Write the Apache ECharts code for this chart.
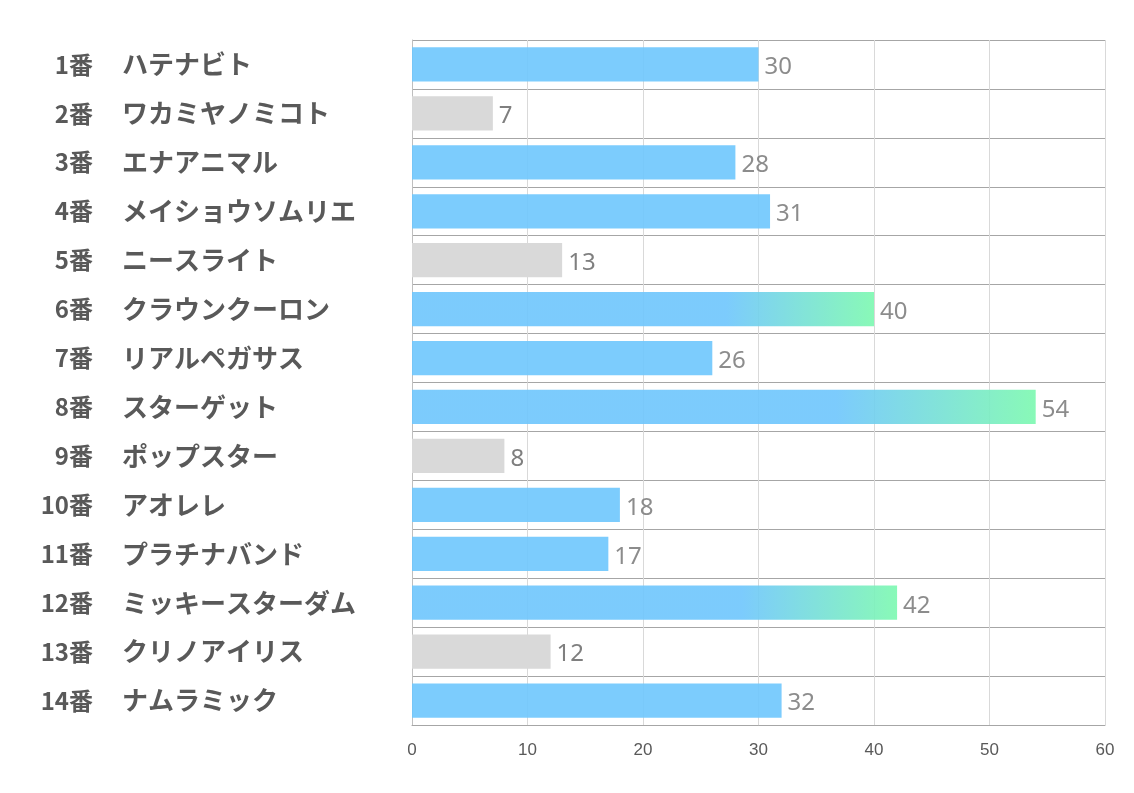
<!DOCTYPE html>
<html><head><meta charset="utf-8">
<script src="https://cdn.jsdelivr.net/npm/echarts@6/dist/echarts.min.js"></script>
<style>html,body{margin:0;padding:0;background:#fff}#c{width:1134px;height:793px}</style>
</head><body><div id="c"></div>
<script>
const numbers = ['1番','2番','3番','4番','5番','6番','7番','8番','9番','10番','11番','12番','13番','14番'];
const horses = ['ハテナビト','ワカミヤノミコト','エナアニマル','メイショウソムリエ','ニースライト','クラウンクーロン','リアルペガサス','スターゲット','ポップスター','アオレレ','プラチナバンド','ミッキースターダム','クリノアイリス','ナムラミック'];
const values = [30,7,28,31,13,40,26,54,8,18,17,42,12,32];
const xTicks = [0,10,20,30,40,50,60];

const blue = '#6ec6fd', gray = '#d9d9d9', green = '#7cf9b0';
function styleFor(v){
  if (v < 15) return {color: gray, opacity: 1};
  if (v >= 40) return {color: new echarts.graphic.LinearGradient(0,0,1,0,[{offset:0,color:blue},{offset:0.68,color:blue},{offset:1,color:green}]), opacity: 0.9};
  return {color: blue, opacity: 0.9};
}
const chart = echarts.init(document.getElementById('c'));
chart.setOption({
  animation:false,
  grid:{left:412,right:29,top:40,bottom:68},
  xAxis:{type:'value',min:xTicks[0],max:xTicks[xTicks.length-1],interval:10,
    axisLine:{show:true,lineStyle:{color:'#a6a6a6'}},axisTick:{show:false},
    axisLabel:{color:'#595959',fontSize:17,margin:17,fontFamily:'Liberation Sans, sans-serif'},
    splitLine:{show:true,lineStyle:{color:'#d9d9d9'}}},
  yAxis:[
    {type:'category',inverse:true,data:numbers,
      axisLine:{show:true,lineStyle:{color:'#bfbfbf'}},axisTick:{show:false},
      splitLine:{show:true,interval:0,lineStyle:{color:'#a6a6a6'}},
      axisLabel:{interval:0,align:'right',margin:319,fontSize:24,fontWeight:'bold',color:'#595959',fontFamily:'Noto Sans CJK JP'}},
    {type:'category',inverse:true,data:horses,position:'left',
      axisLine:{show:false},axisTick:{show:false},splitLine:{show:false},
      axisLabel:{interval:0,align:'left',margin:290,fontSize:26,fontWeight:'bold',color:'#595959',fontFamily:'Noto Sans CJK JP'}}
  ],
  series:[{type:'bar',yAxisIndex:0,barCategoryGap:'30%',
    data:values.map(v=>({value:v,itemStyle:styleFor(v)})),
    label:{show:true,position:'right',distance:6,offset:[0,3],color:'#7f7f7f',fontSize:24,fontFamily:'Noto Sans, sans-serif'}}]
});
</script></body></html>
